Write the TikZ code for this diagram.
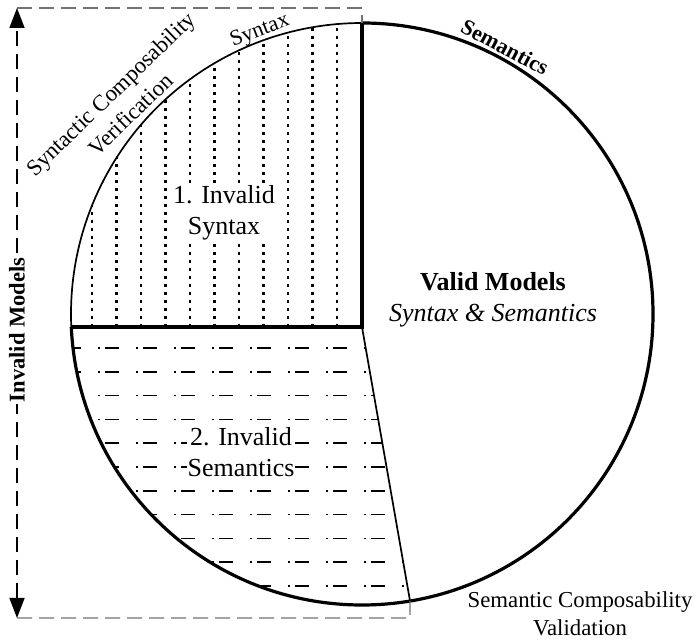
\documentclass[tikz,border=0pt]{standalone}
\usepackage{fontspec}
\setmainfont{Liberation Serif}
\usetikzlibrary{arrows.meta}

\begin{document}
\begin{tikzpicture}[x=1pt,y=1pt,
  bigtext/.style={font=\fontsize{26}{31}\selectfont, align=center},
  midtext/.style={font=\fontsize{22.8}{28.5}\selectfont, align=center},
  heavy/.style={line width=3.2pt},
  light/.style={line width=1.7pt},
  frame/.style={draw=black!55, line width=1.1pt, dash pattern=on 15pt off 7pt},
  dotrule/.style={line width=2.2pt, dash pattern=on 2.6pt off 5.4pt},
  dashdotrule/.style={line width=1.7pt, dash pattern=on 2pt off 5pt on 14pt off 17pt},
  >={Triangle[width=15pt,length=20pt]},
]
\useasboundingbox (0,0) rectangle (696,642);

% circle geometry: centre (362,328), radius 291
\coordinate (C) at (362,328);
\coordinate (T) at (362,619);
\coordinate (L) at (71.29,315);
\coordinate (J) at (362,315);
\coordinate (B) at (410.03,41);

% vertical dotted hatching of the syntax sector
\begin{scope}
  \clip (J) -- (L) arc[start angle=182.56, end angle=90, radius=291] -- cycle;
  \foreach \k in {0,...,10}
    \draw[dotrule] ({92+24.5*\k},315) -- ({92+24.5*\k},640);
\end{scope}

% horizontal dash-dot hatching of the semantics sector
\begin{scope}
  \clip (L) -- (J) -- (B) arc[start angle=279.5, end angle=182.56, radius=291] -- cycle;
  \foreach \k in {0,...,10}
    \draw[dashdotrule] (60,{294-23.8*\k}) -- (420,{294-23.8*\k});
\end{scope}

% sector labels
\node[bigtext, fill=white, inner sep=1pt] (isyn) at (224,429) {1. Invalid\\Syntax};
\node[bigtext, fill=white, inner sep=1pt] (isem) at (241,190) {2. Invalid\\Semantics};
\node[bigtext] (valid) at (493,342) {\textbf{Valid Models}\\\textit{Syntax \& Semantics}};

% outlines
\draw[light] (L) arc[start angle=182.56, end angle=90, radius=291];
\draw[heavy] (T) arc[start angle=90, end angle=-177.44, radius=291];
\draw[heavy] (T) -- (J) -- (L);
\draw[light] (J) -- (B);

% dashed frame around the invalid models
\coordinate (FTL) at (17,634);
\coordinate (FTR) at (362,634);
\coordinate (FBL) at (17,24);
\coordinate (FBR) at (410,24);
\draw[frame] (FTL) -- (FTR) -- (T);
\draw[frame] (FBL) -- (FBR) -- (B);
\draw[line width=1.5pt, dash pattern=on 15pt off 8pt, <->] (FBL) -- (FTL);
\node[fill=white, rotate=90, inner sep=2pt, font=\fontsize{22.5}{27}\selectfont\bfseries] (inv) at (17,312) {Invalid Models};

% arc labels
\node[rotate=-28, font=\fontsize{22}{26}\selectfont\bfseries] (semlabel) at (505,595) {Semantics};
\node[rotate=21, font=\fontsize{22}{26}\selectfont] (synlabel) at (260,611) {Syntax};
\node[rotate=44, midtext] (scv) at (120.5,538) {Syntactic Composability\\Verification};
\node[midtext] (scval) at (580,28) {Semantic Composability\\Validation};
\end{tikzpicture}
\end{document}
